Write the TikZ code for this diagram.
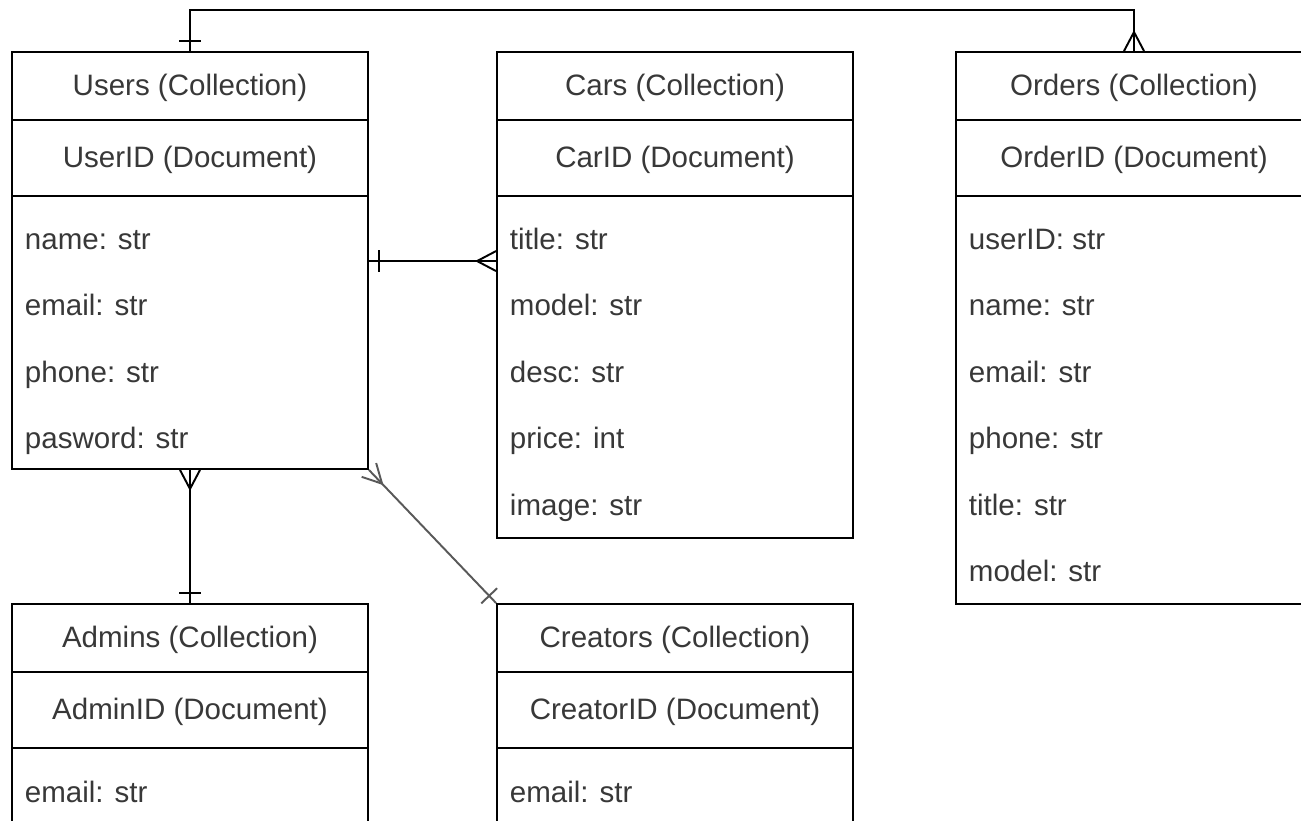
\documentclass[tikz,border=0pt]{standalone}
\usepackage{fontspec}
\setmainfont{Liberation Sans}
\usetikzlibrary{calc}
\def\onebar(#1)(#2){\coordinate (ob-m) at ($(#1)!0.2cm!(#2)$); \draw ($(ob-m)!0.22cm!90:(#2)$) -- ($(ob-m)!0.22cm!-90:(#2)$);}
\def\crowfoot(#1)(#2){\coordinate (cf-tip) at ($(#1)!0.38cm!(#2)$); \draw ($(#1)!0.2cm!90:(#2)$) -- (cf-tip) -- ($(#1)!0.2cm!-90:(#2)$);}
\tikzset{
  entity/.style={draw, line width=1.1pt, minimum width=7.12cm, inner sep=0pt, text=black!78, text height=11pt, text depth=0pt, font=\fontsize{16.8}{20}\selectfont},
  headrow/.style={entity, minimum height=1.36cm},
  docrow/.style={entity, minimum height=1.52cm},
  field/.style={anchor=west, inner sep=0pt, text=black!78, text height=11pt, text depth=0pt, font=\fontsize{16.8}{20}\selectfont},
}

\begin{document}
\begin{tikzpicture}[x=0.02cm, y=-0.02cm, line width=1.1pt]
			%%%%% START %%%%%
			
			\clip (0, 0) rectangle (1301, 821);
			\fill[white] (0, 0) rectangle (1301, 821);
			
			% Users
			\node[headrow] (users-h) at (190, 86) {Users (Collection)};
			\node[docrow] (users-d) at (190, 158) {UserID (Document)};
			\node[entity, minimum height=5.46cm] (users-f) at (190, 332.5) {};
			\node[field] (users-1) at (24, 240) {name: str};
			\node[field] (users-2) at (24, 306) {email: str};
			\node[field] (users-3) at (24, 373) {phone: str};
			\node[field] (users-4) at (24, 439) {pasword: str};
			
			% Cars
			\node[headrow] (cars-h) at (675, 86) {Cars (Collection)};
			\node[docrow] (cars-d) at (675, 158) {CarID (Document)};
			\node[entity, minimum height=6.84cm] (cars-f) at (675, 367) {};
			\node[field] (cars-1) at (509, 240) {title: str};
			\node[field] (cars-2) at (509, 306) {model: str};
			\node[field] (cars-3) at (509, 373) {desc: str};
			\node[field] (cars-4) at (509, 439) {price: int};
			\node[field] (cars-5) at (509, 506) {image: str};
			
			% Orders
			\node[headrow] (orders-h) at (1134, 86) {Orders (Collection)};
			\node[docrow] (orders-d) at (1134, 158) {OrderID (Document)};
			\node[entity, minimum height=8.16cm] (orders-f) at (1134, 400) {};
			\node[field] (orders-1) at (968, 240) {userID: str};
			\node[field] (orders-2) at (968, 306) {name: str};
			\node[field] (orders-3) at (968, 373) {email: str};
			\node[field] (orders-4) at (968, 439) {phone: str};
			\node[field] (orders-5) at (968, 506) {title: str};
			\node[field] (orders-6) at (968, 572) {model: str};
			
			% Admins
			\node[headrow] (admins-h) at (190, 638) {Admins (Collection)};
			\node[docrow] (admins-d) at (190, 710) {AdminID (Document)};
			\node[entity, minimum height=3cm] (admins-f) at (190, 823) {};
			\node[field] (admins-1) at (24, 793) {email: str};
			
			% Creators
			\node[headrow] (creators-h) at (675, 638) {Creators (Collection)};
			\node[docrow] (creators-d) at (675, 710) {CreatorID (Document)};
			\node[entity, minimum height=3cm] (creators-f) at (675, 823) {};
			\node[field] (creators-1) at (509, 793) {email: str};
			
			% relations
			\draw (users-h.north) -- ++(0, -41) coordinate (top-l) -| (orders-h.north);
			\coordinate (top-r) at (top-l -| orders-h.north);
			\onebar(users-h.north)(top-l)
			\crowfoot(orders-h.north)(top-r)
			
			\coordinate (uc-l) at ($(users-f.north east)+(0, 66)$);
			\coordinate (uc-r) at (uc-l -| cars-f.west);
			\draw (uc-l) -- (uc-r);
			\onebar(uc-l)(uc-r)
			\crowfoot(uc-r)(uc-l)
			
			\draw (users-f.south) -- (admins-h.north);
			\crowfoot(users-f.south)(admins-h.north)
			\onebar(admins-h.north)(users-f.south)
			
			\begin{scope}[black!65]
			\draw (users-f.south east) -- (creators-h.north west);
			\crowfoot(users-f.south east)(creators-h.north west)
			\onebar(creators-h.north west)(users-f.south east)
			\end{scope}
			
			%%%%% END %%%%%
\end{tikzpicture}
\end{document}
